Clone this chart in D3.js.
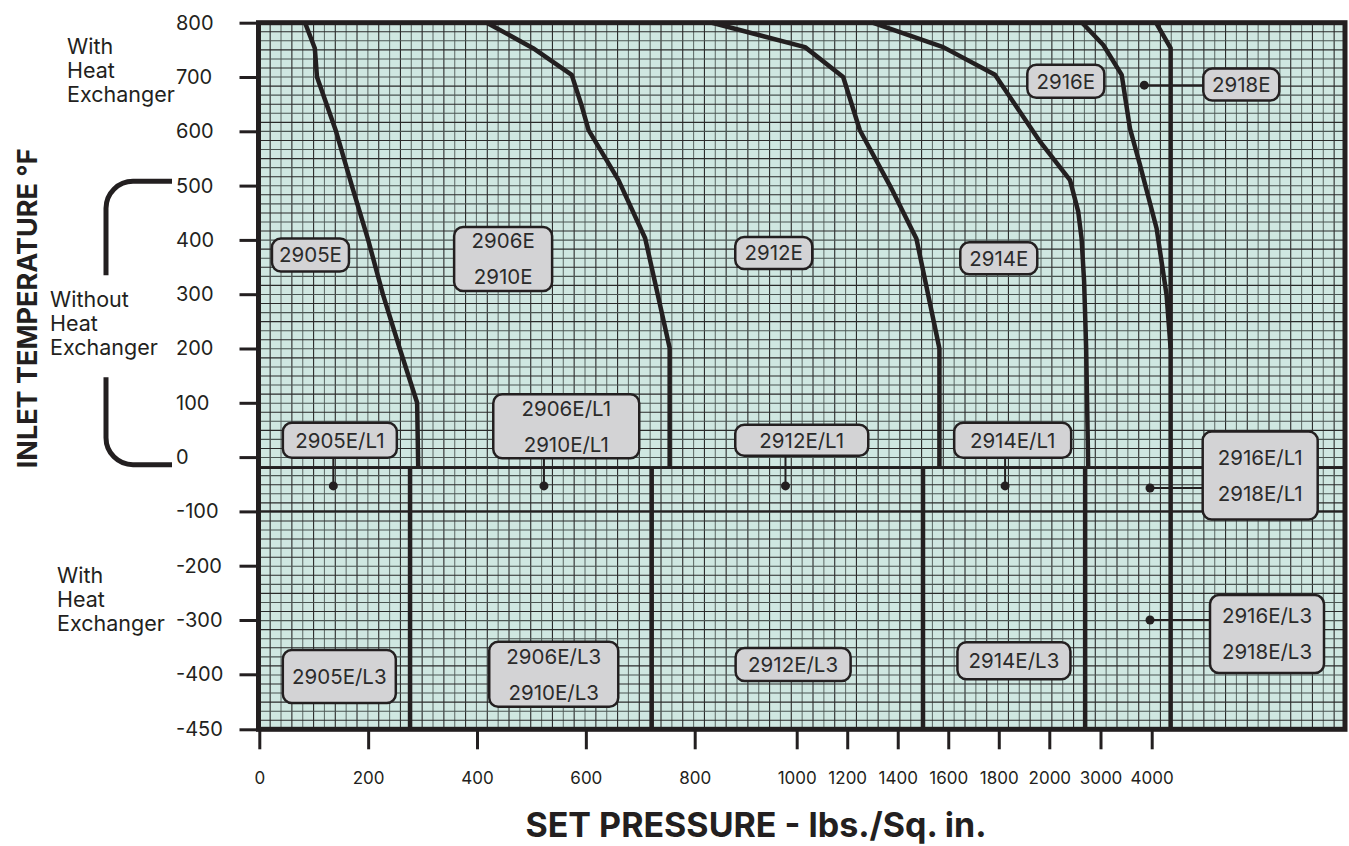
<!DOCTYPE html>
<html>
<head>
<meta charset="utf-8">
<script src="https://cdn.jsdelivr.net/npm/d3@7"></script>
<style>
body{margin:0;background:#fff;}
svg{display:block;font-family:Inter,"Open Sans",sans-serif;}
</style>
</head>
<body>
<div class="container"></div>
<script>
// tick values of both axes
const pressureTicks = [0,200,400,600,800,1000,1200,1400,1600,1800,2000,3000,4000];
const tempTicks = [800,700,600,500,400,300,200,100,0,-100,-200,-300,-400,-450];

// pressure limit curves, [psi, °F]
const curve2905 = [[84,800],[102,753],[106,700],[141,600],[170,500],[200,400],[227,300],[258,200],[290,100],[292,-20]];
const curve2906 = [[418,800],[503,753],[574,704],[592,648],[605,602],[660,510],[709,403],[754,201],[754,-20]];
const curve2912 = [[834,800],[1033,755],[1184,700],[1250,602],[1369,500],[1474,402],[1565,200],[1565,-20]];
const curve2914 = [[1300,800],[1580,755],[1785,704],[1965,580],[2405,510],[2565,452],[2630,403],[2680,323],[2720,200],[2760,-20]];
const curve2916 = [[2640,800],[3055,759],[3414,704],[3576,605],[3771,538],[4096,421],[4291,298],[4370,200]];
const curve2918 = [[4084,800],[4370,753],[4370,-450]];

// L3 limits (psi), from -20 °F down to -450 °F
const l3Limits = [277,721,1500,2700];
// temperature division lines (°F)
const tempDivisions = [-20,-100];

// model callouts: box centre in psi/°F, optional dot it points from
const callouts = [
    {text:["2905E"], p:94, t:372},
    {text:["2906E","2910E"], p:448, t:365},
    {text:["2912E"], p:955, t:376},
    {text:["2914E"], p:1800, t:366},
    {text:["2916E"], p:2322, t:692},
    {text:["2918E"], p:5750, t:686, dot:[3855,685]},
    {text:["2905E/L1"], p:148, t:31, dot:[136,-53]},
    {text:["2906E/L1","2910E/L1"], p:564, t:57, dot:[523,-53]},
    {text:["2912E/L1"], p:1020, t:31, dot:[978,-53]},
    {text:["2914E/L1"], p:1855, t:31, dot:[1825,-53]},
    {text:["2916E/L1","2918E/L1"], p:6119, t:-34, dot:[3967,-57]},
    {text:["2916E/L3","2918E/L3"], p:6252, t:-326, dot:[3967,-300]},
    {text:["2905E/L3"], p:147, t:-402},
    {text:["2906E/L3","2910E/L3"], p:541, t:-400},
    {text:["2912E/L3"], p:993, t:-382},
    {text:["2914E/L3"], p:1860, t:-375}
];
// box sizes for the callouts above (px)
const boxSizes = [[77,33],[98,64],[77,32],[77,32],[77,33],[76,32],[114,35],[146,64],[133,31],[117,35],[115,88],[114,78],[113,53],[129,65],[115,33],[113,37]];

const ink = "#231f20";
const width = 1349, height = 846;
const plotRight = 1345;

const svg = d3.select("div.container").append("svg")
    .attr("width", width)
    .attr("height", height);

// piecewise pressure scale, matching the uneven axis spacing
const x = d3.scaleLinear()
    .domain([0,800,1000,2000,4000])
    .range([259.3,694.7,796.7,1049.3,1151.7]);
const y = d3.scaleLinear()
    .domain([800,-400,-450])
    .range([22.7,674.3,729.3]);

const plotTop = y(800), plotBottom = y(-450), plotLeft = x(0) - 0.8;

// graph paper background
const plot = svg.append("g");
plot.append("rect")
    .attr("x", plotLeft).attr("y", plotTop)
    .attr("width", plotRight - plotLeft).attr("height", plotBottom - plotTop)
    .attr("fill", "#cfe7e1");

const gx = d3.scaleLinear().domain([0,100]).range([x(0), plotRight]);
const gy = d3.scaleLinear().domain([0,78]).range([plotTop, plotBottom]);

plot.append("g").selectAll("line")
    .data(d3.range(1,100))
    .enter().append("line")
    .attr("x1", d => gx(d)).attr("x2", d => gx(d))
    .attr("y1", plotTop).attr("y2", plotBottom)
    .attr("stroke", d => d % 2 ? "#2a2a2a" : "#66736f")
    .attr("stroke-width", 1.1);

plot.append("g").selectAll("line")
    .data(d3.range(1,78))
    .enter().append("line")
    .attr("x1", plotLeft).attr("x2", plotRight)
    .attr("y1", d => gy(d)).attr("y2", d => gy(d))
    .attr("stroke", d => d % 2 ? "#2a2a2a" : "#4a5552")
    .attr("stroke-width", 1.1);

// -20 and -100 division lines
plot.append("g").selectAll("line")
    .data(tempDivisions)
    .enter().append("line")
    .attr("x1", plotLeft).attr("x2", plotRight)
    .attr("y1", d => y(d)).attr("y2", d => y(d))
    .attr("stroke", ink)
    .attr("stroke-width", 2.2);

// L3 limit lines
plot.append("g").selectAll("line")
    .data(l3Limits)
    .enter().append("line")
    .attr("x1", d => x(d)).attr("x2", d => x(d))
    .attr("y1", y(-20)).attr("y2", plotBottom)
    .attr("stroke", ink)
    .attr("stroke-width", 4.5);

// limit curves
const line = d3.line().x(d => x(d[0])).y(d => y(d[1]));
plot.append("g").selectAll("path")
    .data([curve2905, curve2906, curve2912, curve2914, curve2916, curve2918])
    .enter().append("path")
    .attr("d", line)
    .attr("fill", "none")
    .attr("stroke", ink)
    .attr("stroke-width", 4.5)
    .attr("stroke-linejoin", "round");

// frame
svg.append("rect")
    .attr("x", plotLeft).attr("y", plotTop)
    .attr("width", plotRight - plotLeft).attr("height", plotBottom - plotTop)
    .attr("fill", "none")
    .attr("stroke", ink)
    .attr("stroke-width", 5);

// axes
const yAxis = svg.append("g")
    .attr("transform", `translate(${plotLeft},0)`)
    .call(d3.axisLeft(y).tickValues(tempTicks).tickSize(19).tickFormat(d => d));
yAxis.select(".domain").remove();
yAxis.selectAll(".tick line").attr("stroke", ink).attr("stroke-width", 3);
yAxis.selectAll(".tick text")
    .attr("text-anchor", "start")
    .attr("x", 176 - plotLeft)
    .attr("fill", ink)
    .style("font-size", "20px")
    .style("font-family", "Inter, sans-serif");

const xAxis = svg.append("g")
    .attr("transform", `translate(0,${plotBottom})`)
    .call(d3.axisBottom(x).tickValues(pressureTicks).tickSize(20).tickPadding(23).tickFormat(d => d));
xAxis.select(".domain").remove();
xAxis.selectAll(".tick line").attr("stroke", ink).attr("stroke-width", 3);
xAxis.selectAll(".tick text")
    .attr("fill", ink)
    .style("font-size", "17px")
    .style("font-family", "Inter, sans-serif");

// axis titles
svg.append("text")
    .attr("x", 756).attr("y", 837)
    .attr("text-anchor", "middle")
    .attr("fill", ink)
    .style("font-size", "34px").style("font-weight", 700)
    .text("SET PRESSURE - lbs./Sq. in.");

svg.append("text")
    .attr("transform", `translate(37,${y(274)}) rotate(-90)`)
    .attr("text-anchor", "middle")
    .attr("fill", ink)
    .style("font-size", "27px").style("font-weight", 700)
    .text("INLET TEMPERATURE °F");

// side notes
const notes = [
    {lines:["With","Heat","Exchanger"], x:67, y:54},
    {lines:["Without","Heat","Exchanger"], x:50, y:307},
    {lines:["With","Heat","Exchanger"], x:57, y:583}
];
notes.forEach(n => {
    svg.append("text")
        .attr("fill", ink)
        .style("font-size", "21.5px")
        .selectAll("tspan")
        .data(n.lines)
        .enter().append("tspan")
        .attr("x", n.x)
        .attr("y", (d,i) => n.y + i*23.8)
        .text(d => d);
});

// bracket for the "without heat exchanger" range
const bx = 106, bEnd = 172, r = 27;
const yT = y(508), yB = y(-14);
const br = d3.path();
br.moveTo(bEnd, yT); br.lineTo(bx + r, yT); br.arcTo(bx, yT, bx, yT + r, r); br.lineTo(bx, y(335));
br.moveTo(bx, y(147)); br.lineTo(bx, yB - r); br.arcTo(bx, yB, bx + r, yB, r); br.lineTo(bEnd, yB);
svg.append("path")
    .attr("d", br.toString())
    .attr("fill", "none")
    .attr("stroke", ink)
    .attr("stroke-width", 5);

// callouts
const cg = svg.append("g");
callouts.forEach((c,i) => {
    const [w,h] = boxSizes[i];
    const cx = x(c.p), cy = y(c.t);
    if (c.dot) {
        const dx = x(c.dot[0]), dy = y(c.dot[1]);
        // horizontal leader if the dot sits left of the box, else vertical
        if (dx < cx - w/2) {
            cg.append("line").attr("x1", dx).attr("x2", cx - w/2).attr("y1", dy).attr("y2", dy);
        } else {
            cg.append("line").attr("x1", dx).attr("x2", dx).attr("y1", dy).attr("y2", cy + h/2);
        }
        cg.append("circle").attr("cx", dx).attr("cy", dy).attr("r", 4.5).attr("fill", ink);
    }
    cg.append("rect")
        .attr("x", cx - w/2).attr("y", cy - h/2)
        .attr("width", w).attr("height", h)
        .attr("rx", 9)
        .attr("fill", "#d3d3d5")
        .attr("stroke", ink)
        .attr("stroke-width", 2.5);
    const n = c.text.length;
    cg.append("g").selectAll("text")
        .data(c.text)
        .enter().append("text")
        .attr("x", cx)
        .attr("y", (d,j) => cy + (j - (n-1)/2)*36)
        .attr("dy", "0.36em")
        .attr("text-anchor", "middle")
        .attr("fill", "#2b2b2b")
        .style("font-size", "20.5px")
        .text(d => d);
});
cg.selectAll("line").attr("stroke", ink).attr("stroke-width", 2);
</script>
</body>
</html>
